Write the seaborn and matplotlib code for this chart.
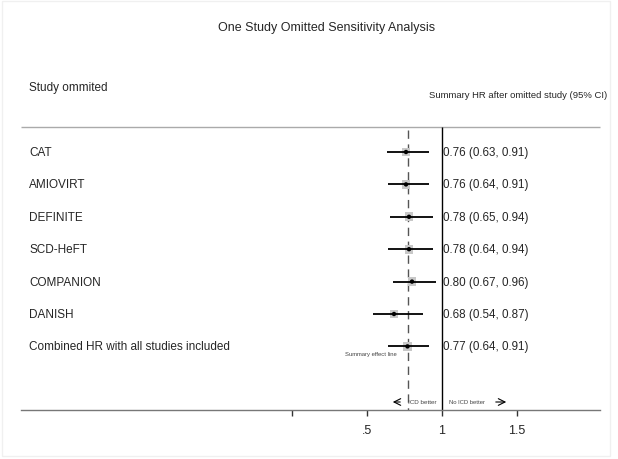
import numpy as np
import pandas as pd
import matplotlib
matplotlib.use("Agg")
import matplotlib.pyplot as plt
import seaborn as sns

sns.set_theme(style="white")
plt.rcParams["font.family"] = ["Liberation Sans", "DejaVu Sans"]

# Data
studies = ["CAT", "AMIOVIRT", "DEFINITE", "SCD-HeFT", "COMPANION", "DANISH",
           "Combined HR with all studies included"]
hr = [0.76, 0.76, 0.78, 0.78, 0.80, 0.68, 0.77]
ci_low = [0.63, 0.64, 0.65, 0.64, 0.67, 0.54, 0.64]
ci_high = [0.91, 0.91, 0.94, 0.94, 0.96, 0.87, 0.91]
summary_hr = 0.77
xticks = [0, 0.5, 1, 1.5]
xtick_labels = ["", ".5", "1", "1.5"]

df = pd.DataFrame({"study": studies, "hr": hr, "lo": ci_low, "hi": ci_high})
df["row"] = np.arange(len(df))

fig = plt.figure(figsize=(6.18, 4.6), dpi=100)
ax = fig.add_axes([0, 0, 1, 1])

# pixel helpers -> data coords (x: 150 px per unit, 0 at px 292; rows 32.4 px apart from px 153)
def px_x(p):
    return (p - 292) / 150.0

def px_y(p):
    return (p - 153) / 32.4

ax.set_xlim(px_x(0), px_x(618))
ax.set_ylim(px_y(460), px_y(0))

top_y = px_y(128)
axis_y = px_y(411)
left_x, right_x = px_x(21), px_x(600)

# faint outer frame
fig.patches.append(plt.Rectangle((2 / 618, 1 - 457 / 460), 608 / 618, 455 / 460,
                                 transform=fig.transFigure, fill=False,
                                 edgecolor="#f0f0f0", lw=1))

# header line and reference lines
ax.hlines(top_y, left_x, right_x, color="#aaaaaa", lw=1)
ax.vlines(1, top_y, axis_y, color="black", lw=1)
ax.vlines(summary_hr, px_y(131), axis_y, color="#555555", lw=1,
          linestyles=(0, (6, 4)))

# confidence intervals and point estimates
ax.hlines(df["row"], df["lo"], df["hi"], color="black", lw=1.3, zorder=3)
sns.scatterplot(data=df, x="hr", y="row", marker="s", s=40, color="#c8c8c8",
                edgecolor="none", ax=ax, zorder=2, legend=False)
sns.scatterplot(data=df, x="hr", y="row", marker="o", s=10, color="black",
                edgecolor="none", ax=ax, zorder=4, legend=False)

# labels per row
for _, r in df.iterrows():
    ax.text(px_x(29), r["row"], r["study"], ha="left", va="center", fontsize=8.5)
    ax.text(px_x(443), r["row"], f"{r['hr']:.2f} ({r['lo']:.2f}, {r['hi']:.2f})",
            ha="left", va="center", fontsize=8.4)

ax.text(px_x(397), px_y(355), "Summary effect line", ha="right", va="center",
        fontsize=4.2, color="#444444")

# direction labels
ax.text(px_x(408), px_y(403), "ICD better", ha="left", va="center",
        fontsize=4.5, color="#444444")
ax.text(px_x(449), px_y(403), "No ICD better", ha="left", va="center",
        fontsize=4.2, color="#444444")
ax.annotate("", xy=(px_x(390), px_y(403)), xytext=(px_x(403), px_y(403)),
            arrowprops=dict(arrowstyle="->", lw=0.8, color="black"))
ax.annotate("", xy=(px_x(509), px_y(403)), xytext=(px_x(493), px_y(403)),
            arrowprops=dict(arrowstyle="->", lw=0.8, color="black"))

# bottom axis
for s in ["top", "left", "right"]:
    ax.spines[s].set_visible(False)
ax.spines["bottom"].set_position(("data", axis_y))
ax.spines["bottom"].set_bounds(left_x, right_x)
ax.spines["bottom"].set_color("#777777")
ax.spines["bottom"].set_linewidth(1)
ax.set_xticks(xticks)
ax.set_xticklabels(xtick_labels, fontsize=9)
ax.tick_params(axis="x", direction="out", length=4, width=1, color="#333333",
               pad=6, bottom=True)
ax.set_yticks([])
ax.set_xlabel("")
ax.set_ylabel("")

# titles
fig.text(327 / 618, 1 - 28 / 460, "One Study Omitted Sensitivity Analysis",
         ha="center", va="center", fontsize=9)
fig.text(29 / 618, 1 - 88 / 460, "Study ommited", ha="left", va="center",
         fontsize=8.5)
fig.text(607 / 618, 1 - 95 / 460, "Summary HR after omitted study (95% CI)",
         ha="right", va="center", fontsize=6.8)

fig.savefig("out.png", dpi=100)
